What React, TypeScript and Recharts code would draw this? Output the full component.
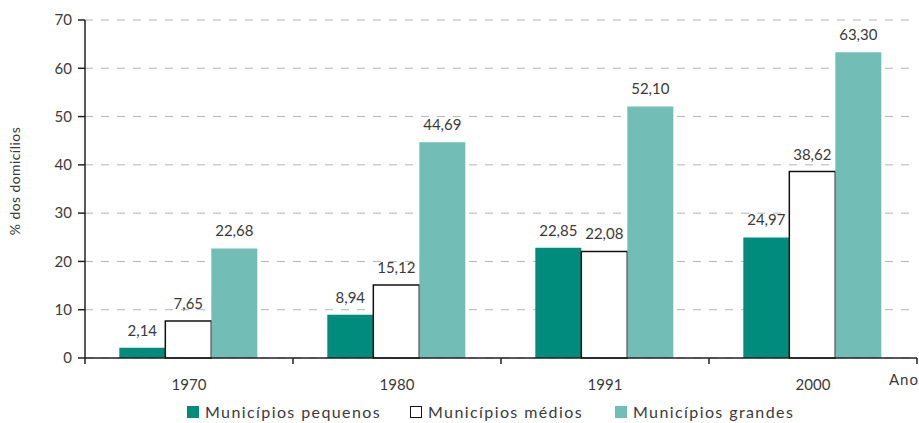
import { BarChart, Bar, XAxis, YAxis, CartesianGrid, LabelList, Legend } from 'recharts';

const anos = ['1970', '1980', '1991', '2000'];
const pequenos = [2.14, 8.94, 22.85, 24.97];
const medios = [7.65, 15.12, 22.08, 38.62];
const grandes = [22.68, 44.69, 52.1, 63.3];
const yTicks = [0, 10, 20, 30, 40, 50, 60, 70];

const data = anos.map((ano, i) => ({
  ano,
  pequenos: pequenos[i],
  medios: medios[i],
  grandes: grandes[i],
}));

const FONT = 'Lato, "DejaVu Sans", sans-serif';
const TXT = '#3a3a3a';
const DARK = '#008c7c';
const LIGHT = '#72bdb6';
const BAND = 208;

const fmt = (v: number) => v.toFixed(2).replace('.', ',');

function AnoTick(props: any) {
  const { x, y, payload, index } = props;
  const last = index === anos.length - 1;
  return (
    <g>
      <line x1={x - BAND / 2} y1={y - 8} x2={x - BAND / 2} y2={y - 2} stroke="#222" strokeWidth={1.5} />
      {last && <line x1={x + BAND / 2} y1={y - 8} x2={x + BAND / 2} y2={y - 2} stroke="#222" strokeWidth={1.5} />}
      <text x={x} y={y + 24} textAnchor="middle" fontSize={15} fill={TXT} fontFamily={FONT}>
        {payload.value}
      </text>
    </g>
  );
}

function YLabel(props: any) {
  const { viewBox } = props;
  const cx = 20;
  const cy = viewBox.y + viewBox.height / 2 - 8;
  return (
    <text x={cx} y={cy} transform={`rotate(-90 ${cx} ${cy})`} textAnchor="middle" fontSize={14} fill={TXT} fontFamily={FONT} letterSpacing={0.4}>
      % dos domicílios
    </text>
  );
}

function LegendBox() {
  const items = [
    { label: 'Municípios pequenos', fill: DARK, stroke: DARK, w: 223 },
    { label: 'Municípios médios', fill: '#fff', stroke: '#111', w: 205 },
    { label: 'Municípios grandes', fill: LIGHT, stroke: LIGHT, w: 200 },
  ];
  return (
    <div style={{ display: 'flex', paddingLeft: 187, paddingTop: 4, fontFamily: FONT, fontSize: 16, color: TXT, letterSpacing: 1.4 }}>
      {items.map((it) => (
        <div key={it.label} style={{ display: 'flex', alignItems: 'center', width: it.w, whiteSpace: 'nowrap' }}>
          <span style={{ display: 'inline-block', boxSizing: 'border-box', width: 12, height: 12, background: it.fill, border: `1.5px solid ${it.stroke}`, marginRight: 6 }} />
          {it.label}
        </div>
      ))}
    </div>
  );
}

export default function App() {
  return (
    <div style={{ position: 'absolute', left: 0, top: 0, background: '#fff' }}>
      <BarChart
        width={919}
        height={423}
        data={data}
        margin={{ top: 20, right: 2, left: 0, bottom: 0 }}
        barCategoryGap="16.5%"
        barGap={0}
      >
        <CartesianGrid horizontal vertical={false} stroke="#b5b5b5" strokeDasharray="8 8" />
        <XAxis
          dataKey="ano"
          height={40}
          axisLine={{ stroke: '#222', strokeWidth: 1.5 }}
          tickLine={false}
          tick={<AnoTick />}
          interval={0}
          label={{
            value: 'Ano',
            position: 'insideBottomRight',
            offset: 0,
            dy: -13,
            dx: 2,
            fontSize: 15,
            fill: TXT,
            fontFamily: FONT,
            letterSpacing: 1,
          }}
        />
        <YAxis
          width={85}
          domain={[0, 70]}
          ticks={yTicks}
          interval={0}
          axisLine={{ stroke: '#222', strokeWidth: 1.5 }}
          tickLine={{ stroke: '#222', strokeWidth: 1.5 }}
          tickSize={7}
          tickMargin={6}
          tick={{ fontSize: 15, fill: TXT, fontFamily: FONT }}
          label={<YLabel />}
        />
        <Legend verticalAlign="bottom" height={25} content={<LegendBox />} />
        <Bar dataKey="pequenos" fill={DARK} isAnimationActive={false}>
          <LabelList dataKey="pequenos" position="top" offset={12} formatter={fmt} fontSize={15} fill={TXT} fontFamily={FONT} />
        </Bar>
        <Bar dataKey="medios" fill="#fff" stroke="#111" strokeWidth={1.5} isAnimationActive={false}>
          <LabelList dataKey="medios" position="top" offset={12} formatter={fmt} fontSize={15} fill={TXT} fontFamily={FONT} />
        </Bar>
        <Bar dataKey="grandes" fill={LIGHT} isAnimationActive={false}>
          <LabelList dataKey="grandes" position="top" offset={12} formatter={fmt} fontSize={15} fill={TXT} fontFamily={FONT} />
        </Bar>
      </BarChart>
    </div>
  );
}
